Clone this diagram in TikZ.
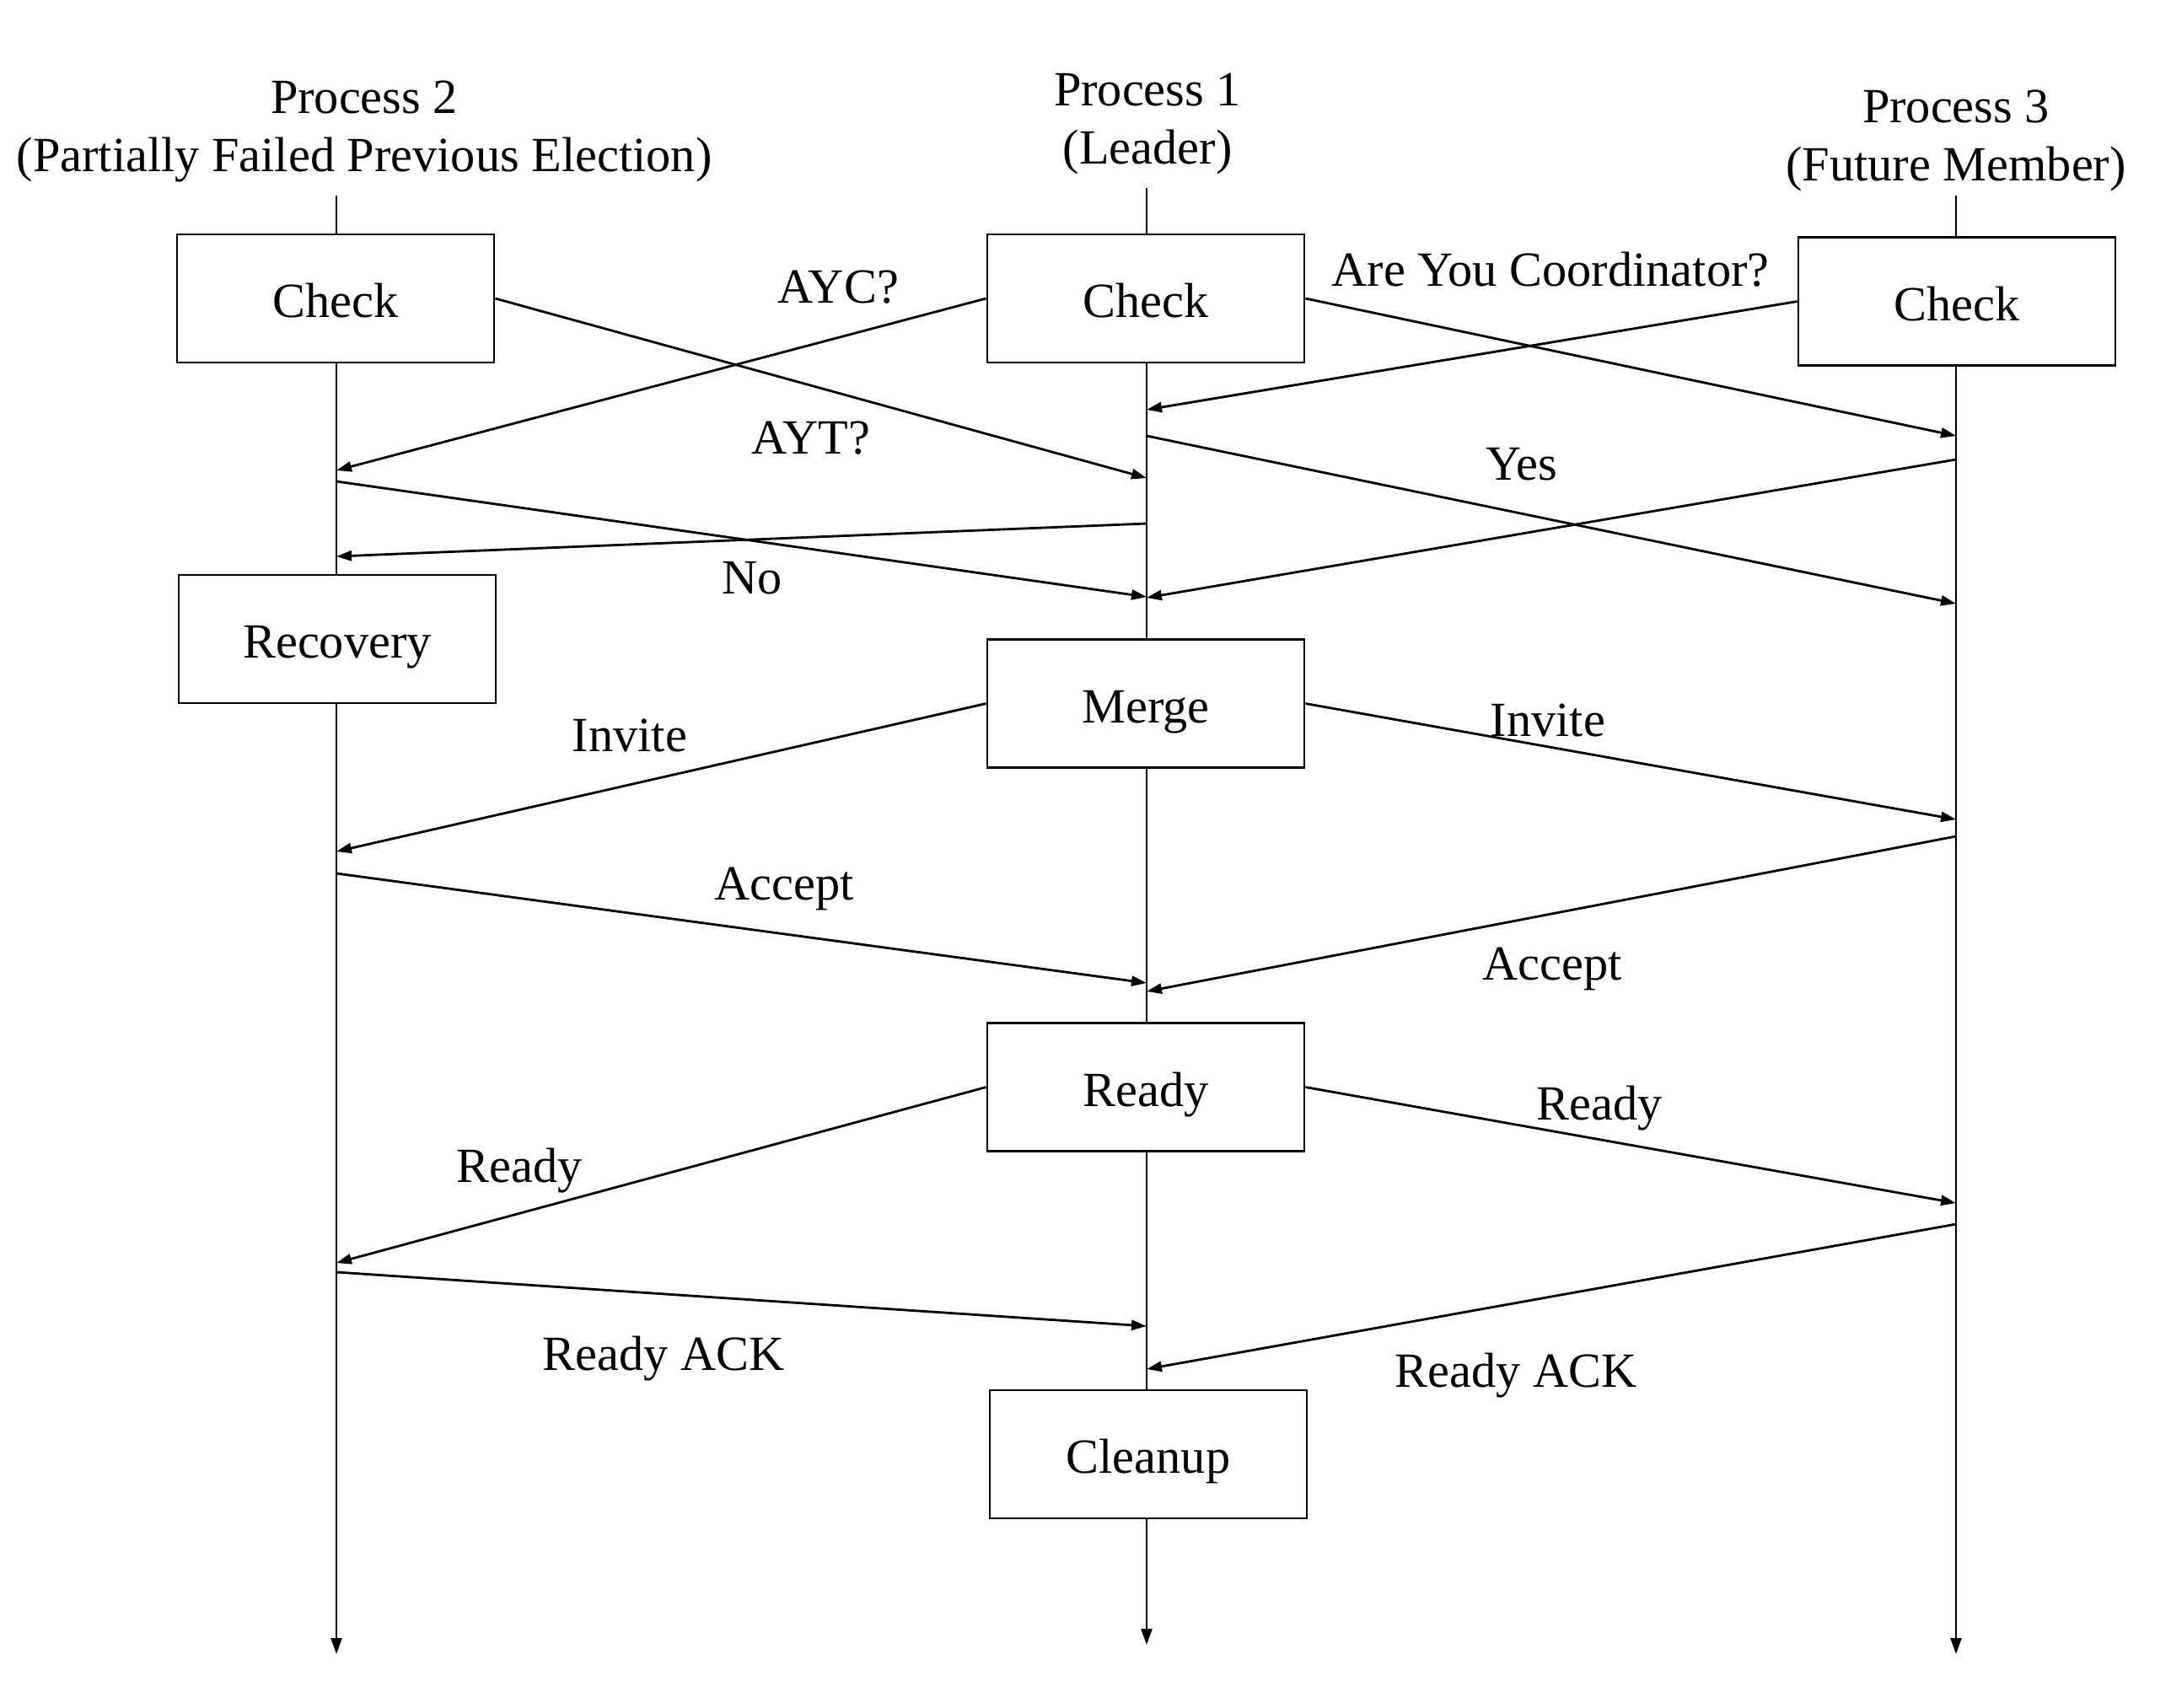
\documentclass[tikz,border=0pt]{standalone}
\usepackage{fontspec}
\setmainfont{Liberation Serif}
\usetikzlibrary{arrows.meta, positioning}

\begin{document}
\begin{tikzpicture}[x=1cm, y=-1cm,
    every node/.style={font=\fontsize{16.6}{19.6}\selectfont},
    box/.style={draw, line width=0.8pt, fill=white, minimum width=3.76cm, minimum height=1.52cm, inner sep=0pt, text height=13pt, text depth=0pt},
    msglabel/.style={text height=11.2pt, text depth=0pt},
    msg/.style={-{Triangle[length=0.18cm, width=0.12cm]}, line width=0.8pt},
    life/.style={-{Triangle[length=0.19cm, width=0.13cm]}, line width=0.7pt}]
    \useasboundingbox (0,0) rectangle (25.75,20.25);

    % Tieu de cac tien trinh
    \node[align=center] (title2) at (4.32,1.56) {Process 2\\(Partially Failed Previous Election)};
    \node[align=center] (title1) at (13.61,1.465) {Process 1\\(Leader)};
    \node[align=center] (title3) at (23.20,1.67) {Process 3\\(Future Member)};

    % Cac duong thoi gian (lifeline)
    \coordinate (top2) at (3.99,2.32);  \coordinate (end2) at (3.99,19.62);
    \coordinate (top1) at (13.60,2.23); \coordinate (end1) at (13.60,19.51);
    \coordinate (top3) at (23.20,2.32); \coordinate (end3) at (23.20,19.62);
    \draw[life] (top2) -- (end2);
    \draw[life] (top1) -- (end1);
    \draw[life] (top3) -- (end3);

    % Cac hop trang thai
    \node[box] (check2) at (3.98,3.54) {Check};
    \node[box] (check1) at (13.59,3.54) {Check};
    \node[box] (check3) at (23.21,3.575) {Check};
    \node[box] (recovery) at (4.00,7.58) {Recovery};
    \node[box] (merge) at (13.59,8.345) {Merge};
    \node[box] (ready) at (13.59,12.895) {Ready};
    \node[box] (cleanup) at (13.62,17.25) {Cleanup};

    % Diem dau/cuoi cua thong diep tren cac lifeline
    \coordinate (p1a) at (13.60,4.86);  \coordinate (p1b) at (13.60,5.17);
    \coordinate (p1c) at (13.60,5.67);  \coordinate (p1d) at (13.60,6.21);
    \coordinate (p1e) at (13.60,7.08);  \coordinate (p1f) at (13.60,7.09);
    \coordinate (p1g) at (13.60,11.66); \coordinate (p1h) at (13.60,11.76);
    \coordinate (p1i) at (13.60,15.73); \coordinate (p1j) at (13.60,16.24);
    \coordinate (p2a) at (3.99,5.58);   \coordinate (p2b) at (3.99,5.71);
    \coordinate (p2c) at (3.99,6.60);   \coordinate (p2d) at (3.99,10.10);
    \coordinate (p2e) at (3.99,10.36);  \coordinate (p2f) at (3.99,14.98);
    \coordinate (p2g) at (3.99,15.09);
    \coordinate (p3a) at (23.20,5.17);  \coordinate (p3b) at (23.20,5.45);
    \coordinate (p3c) at (23.20,7.16);  \coordinate (p3d) at (23.20,9.72);
    \coordinate (p3e) at (23.20,9.92);  \coordinate (p3f) at (23.20,14.27);
    \coordinate (p3g) at (23.20,14.52);

    % Giai doan Check
    \draw[msg] (check2.east) -- (p1c);
    \draw[msg] (check1.west) -- (p2a);
    \draw[msg] (check1.east) -- (p3a);
    \draw[msg] (check3.west) -- (p1a);
    \draw[msg] (p2b) -- (p1e);
    \draw[msg] (p1d) -- (p2c);
    \draw[msg] (p1b) -- (p3c);
    \draw[msg] (p3b) -- (p1f);

    % Giai doan Merge
    \draw[msg] (merge.west) -- (p2d);
    \draw[msg] (merge.east) -- (p3d);
    \draw[msg] (p2e) -- (p1g);
    \draw[msg] (p3e) -- (p1h);

    % Giai doan Ready
    \draw[msg] (ready.west) -- (p2f);
    \draw[msg] (ready.east) -- (p3f);
    \draw[msg] (p2g) -- (p1i);
    \draw[msg] (p3g) -- (p1j);

    % Nhan cua cac thong diep
    \node[msglabel] (ayc) at (9.94,3.40) {AYC?};
    \node[msglabel] (areyou) at (18.39,3.20) {Are You Coordinator?};
    \node[msglabel] (ayt) at (9.62,5.19) {AYT?};
    \node[msglabel] (yes) at (18.05,5.50) {Yes};
    \node[msglabel] (no) at (8.92,6.85) {No};
    \node[msglabel] (invite2) at (7.47,8.72) {Invite};
    \node[msglabel] (invite3) at (18.36,8.54) {Invite};
    \node[msglabel] (accept2) at (9.30,10.48) {Accept};
    \node[msglabel] (accept3) at (18.41,11.43) {Accept};
    \node[msglabel] (ready3) at (18.97,13.09) {Ready};
    \node[msglabel] (ready2) at (6.16,13.83) {Ready};
    \node[msglabel] (ack2) at (7.87,16.06) {Ready ACK};
    \node[msglabel] (ack3) at (17.98,16.26) {Ready ACK};
\end{tikzpicture}
\end{document}
